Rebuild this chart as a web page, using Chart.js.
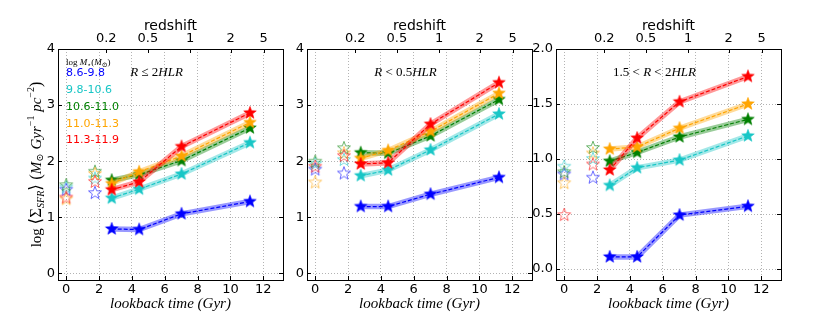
<!DOCTYPE html>
<html>
<head>
<meta charset="utf-8">
<script src="https://cdn.jsdelivr.net/npm/chart.js@4"></script>
<style>
  body { margin: 0; background: #fff; }
  #wrap { position: relative; width: 830px; height: 329px; }
  #wrap canvas { position: absolute; left: 0; top: 0; }
</style>
</head>
<body>
<div id="wrap">
  <canvas id="p1" width="830" height="329"></canvas>
  <canvas id="p2" width="830" height="329"></canvas>
  <canvas id="p3" width="830" height="329"></canvas>
</div>
<script>
// mass bins (log M*) and their colours
const massBins = ['8.6-9.8', '9.8-10.6', '10.6-11.0', '11.0-11.3', '11.3-11.9'];
const binColors = ['#0000ff', '#18c6c6', '#008000', '#ffa500', '#ff0000'];

// lookback times (Gyr) of the four redshift slices, and of the two local samples
const lookback = [2.77, 4.44, 7.02, 11.19];
const localTimes = [0, 1.75];

// top axis
const redshiftTicks = [0.2, 0.5, 1, 2, 5];
const redshiftLookback = [2.44, 4.97, 7.55, 10.01, 12.02];

// panel 1: R <= 2 HLR   (one row per mass bin)
const sfrR2 = [
  [0.79, 0.78, 1.06, 1.28],
  [1.34, 1.50, 1.77, 2.33],
  [1.66, 1.76, 2.01, 2.59],
  [1.60, 1.81, 2.09, 2.69],
  [1.49, 1.63, 2.26, 2.86]
];
const sfrR2Local = [
  [1.49, 1.43],
  [1.53, 1.69],
  [1.57, 1.81],
  [1.32, 1.77],
  [1.35, 1.63]
];

// panel 2: R < 0.5 HLR
const sfrCore = [
  [1.19, 1.19, 1.41, 1.71],
  [1.74, 1.84, 2.20, 2.84],
  [2.15, 2.14, 2.45, 3.10],
  [2.05, 2.19, 2.53, 3.21],
  [1.95, 1.97, 2.66, 3.40]
];
const sfrCoreLocal = [
  [1.85, 1.78],
  [1.95, 2.02],
  [1.99, 2.23],
  [1.62, 2.14],
  [1.90, 2.09]
];

// panel 3: 1.5 < R < 2 HLR
const sfrOuter = [
  [0.11, 0.11, 0.49, 0.57],
  [0.76, 0.92, 0.99, 1.21],
  [0.98, 1.06, 1.20, 1.36],
  [1.09, 1.11, 1.28, 1.50],
  [0.90, 1.19, 1.52, 1.75]
];
const sfrOuterLocal = [
  [0.86, 0.83],
  [0.93, 1.00],
  [0.88, 1.10],
  [0.78, 1.05],
  [0.49, 0.95]
];

const SERIF = '"Liberation Serif", "DejaVu Serif", serif';
const SANS = '"DejaVu Sans", sans-serif';

function withAlpha(hex, a) {
  const n = parseInt(hex.slice(1), 16);
  return 'rgba(' + (n >> 16) + ',' + ((n >> 8) & 255) + ',' + (n & 255) + ',' + a + ')';
}

function starImage(color, filled, r) {
  const s = Math.ceil(2 * r + 4);
  const c = document.createElement('canvas');
  c.width = s; c.height = s;
  const g = c.getContext('2d');
  g.translate(s / 2, s / 2);
  g.beginPath();
  for (let k = 0; k < 10; k++) {
    const rr = k % 2 ? r * 0.42 : r;
    const a = -Math.PI / 2 + k * Math.PI / 5;
    g.lineTo(rr * Math.cos(a), rr * Math.sin(a));
  }
  g.closePath();
  g.strokeStyle = color;
  if (filled) {
    g.fillStyle = color;
    g.fill();
    g.lineWidth = 0.6;
    g.stroke();
  } else {
    g.globalAlpha = 0.65;
    g.lineWidth = 0.9;
    g.stroke();
  }
  return c;
}

// draw a run of text pieces: [text, font, dy]
function drawRich(ctx, pieces, x, y, align) {
  let total = 0;
  pieces.forEach(p => { ctx.font = p[1]; total += ctx.measureText(p[0]).width; });
  let cx = align === 'center' ? x - total / 2 : x;
  ctx.textBaseline = 'middle';
  ctx.textAlign = 'left';
  pieces.forEach(p => {
    ctx.font = p[1];
    ctx.fillText(p[0], cx, y + (p[2] || 0));
    cx += ctx.measureText(p[0]).width;
  });
}

const it = s => 'italic ' + s + 'px ' + SERIF;
const rm = s => s + 'px ' + SERIF;

const panels = [
  { id: 'p1', left: 58, right: 283, ymin: -0.12, ymax: 4, step: 1, values: sfrR2, local: sfrR2Local,
    label: [['R', it(13)], [' \u2264 ', rm(13)], ['2', rm(13)], ['HLR', it(13)]], first: true },
  { id: 'p2', left: 307, right: 532, ymin: -0.12, ymax: 4, step: 1, values: sfrCore, local: sfrCoreLocal,
    label: [['R', it(13)], [' < ', rm(13)], ['0.5', rm(13)], ['HLR', it(13)]] },
  { id: 'p3', left: 556, right: 781, ymin: -0.1, ymax: 2, step: 0.5, values: sfrOuter, local: sfrOuterLocal,
    label: [['1.5', rm(13)], [' < ', rm(13)], ['R', it(13)], [' < ', rm(13)], ['2', rm(13)], ['HLR', it(13)]], decimals: 1 }
];

function makePanel(p) {
  const datasets = [];
  massBins.forEach((bin, i) => {
    const base = (4 - i) * 10;
    const pts = lookback.map((t, j) => ({ x: t, y: p.values[i][j] }));
    datasets.push({
      data: pts, borderColor: withAlpha(binColors[i], 0.4), borderWidth: 5.5,
      pointRadius: 0, fill: false, tension: 0, order: base + 2
    });
    datasets.push({
      data: pts, borderColor: binColors[i], borderWidth: 1.2, borderDash: [4, 2],
      pointStyle: starImage(binColors[i], true, 6.6), pointRadius: 6, fill: false, order: base + 1
    });
    datasets.push({
      data: localTimes.map((t, j) => ({ x: t, y: p.local[i][j] })), showLine: false,
      pointStyle: starImage(binColors[i], false, 6.8), pointRadius: 6, order: 100 + base
    });
  });

  const tickFont = { family: SANS, size: 13 };
  const gridOpts = { color: '#a0a0a0', lineWidth: 0.8, drawTicks: false, tickLength: 0 };

  const deco = {
    id: 'deco',
    afterDraw(chart) {
      const ctx = chart.ctx;
      const a = chart.chartArea;
      const sx = chart.scales.x, sy = chart.scales.y;
      ctx.save();
      ctx.strokeStyle = '#000';
      ctx.lineWidth = 1;
      // inward tick marks
      ctx.beginPath();
      sy.ticks.forEach(t => {
        const y = Math.round(sy.getPixelForValue(t.value)) + 0.5;
        ctx.moveTo(a.left, y); ctx.lineTo(a.left + 4, y);
        ctx.moveTo(a.right, y); ctx.lineTo(a.right - 4, y);
      });
      sx.ticks.forEach(t => {
        const x = Math.round(sx.getPixelForValue(t.value)) + 0.5;
        ctx.moveTo(x, a.bottom); ctx.lineTo(x, a.bottom - 4);
      });
      redshiftLookback.forEach(v => {
        const x = Math.round(sx.getPixelForValue(v)) + 0.5;
        ctx.moveTo(x, a.top); ctx.lineTo(x, a.top + 4);
      });
      ctx.stroke();
      ctx.strokeRect(Math.round(a.left) + 0.5, Math.round(a.top) + 0.5,
        Math.round(a.right - a.left), Math.round(a.bottom - a.top));

      ctx.fillStyle = '#000';
      const cx = (a.left + a.right) / 2;
      ctx.textAlign = 'center';
      ctx.textBaseline = 'middle';
      ctx.font = '14px ' + SANS;
      ctx.fillText('redshift', cx, 26);
      ctx.font = it(15);
      ctx.fillText('lookback time (Gyr)', cx, 304);

      drawRich(ctx, p.label, cx - 14, 73, 'center');

      if (p.first) {
        drawRich(ctx, [['log ', rm(9)], ['M', it(9)], ['\u22c6', rm(7), 2], ['(', rm(9)], ['M', it(9)],
          ['\u2299', rm(7), 2], [')', rm(9)]], 66, 63, 'left');
        ctx.font = '11px ' + SANS;
        ctx.textAlign = 'left';
        const rows = [73, 90, 107, 124, 140];
        massBins.forEach((b, i) => {
          ctx.fillStyle = binColors[i];
          ctx.fillText(b, 66, rows[i]);
        });
        ctx.fillStyle = '#000';
        ctx.translate(37, (a.top + a.bottom) / 2);
        ctx.rotate(-Math.PI / 2);
        drawRich(ctx, [['log ', rm(15)], ['\u27e8\u03a3', rm(17)], ['SFR', it(10), 4], ['\u27e9 (', rm(17)],
          ['M', it(15)], ['\u2299', rm(10), 3], [' Gyr', it(15)], ['\u22121', rm(10), -6],
          [' pc', it(15)], ['\u22122', rm(10), -6], [')', rm(16)]], 0, 0, 'center');
      }
      ctx.restore();
    }
  };

  new Chart(document.getElementById(p.id), {
    type: 'line',
    data: { datasets: datasets },
    options: {
      responsive: false,
      animation: false,
      layout: { padding: { left: p.left - 30, right: 830 - p.right, top: 0, bottom: 0 } },
      plugins: { legend: { display: false }, tooltip: { enabled: false } },
      scales: {
        x: {
          type: 'linear', position: 'bottom', min: -0.5, max: 13.2,
          ticks: { stepSize: 2, includeBounds: false, font: tickFont, color: '#000', padding: 2, maxRotation: 0 },
          grid: gridOpts,
          border: { display: false, dash: [1, 2] },
          afterFit: s => { s.height = 49; }
        },
        x2: {
          type: 'linear', position: 'top', min: -0.5, max: 13.2,
          afterBuildTicks: s => { s.ticks = redshiftLookback.map(v => ({ value: v })); },
          ticks: { autoSkip: false, maxRotation: 0, font: tickFont, color: '#000', padding: 3,
            callback: (v, i) => String(redshiftTicks[i]) },
          grid: { display: false, drawTicks: false },
          border: { display: false },
          afterFit: s => { s.height = 49; }
        },
        y: {
          type: 'linear', position: 'left', min: p.ymin, max: p.ymax,
          ticks: { stepSize: p.step, includeBounds: false, font: tickFont, color: '#000', padding: 3,
            callback: v => p.decimals ? v.toFixed(p.decimals) : String(v) },
          grid: gridOpts,
          border: { display: false, dash: [1, 2] },
          afterFit: s => { s.width = 30; }
        }
      }
    },
    plugins: [deco]
  });
}

panels.forEach(makePanel);
</script>
</body>
</html>
